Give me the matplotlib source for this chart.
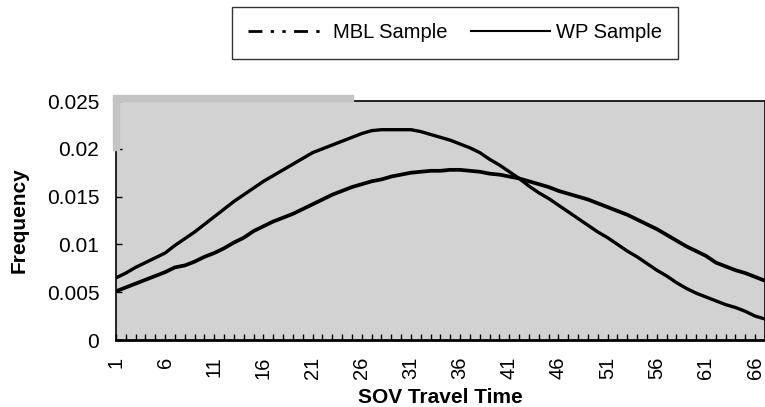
import numpy as np
import matplotlib
matplotlib.use("Agg")
import matplotlib.pyplot as plt
from matplotlib.lines import Line2D
from matplotlib.patches import Rectangle

plt.rcParams.update({
    "font.family": ["Liberation Sans", "DejaVu Sans"],
})

# SOV travel time categories 1..67
travel_time = list(range(1, 68))

mbl_sample = [
    0.0051, 0.0055, 0.0059, 0.0063, 0.0067, 0.0071, 0.0076, 0.0078, 0.0082, 0.0087,
    0.0091, 0.0096, 0.0102, 0.0107, 0.0114, 0.0119, 0.0124, 0.0128, 0.0132, 0.0137,
    0.0142, 0.0147, 0.0152, 0.0156, 0.0160, 0.0163, 0.0166, 0.0168, 0.0171, 0.0173,
    0.0175, 0.0176, 0.0177, 0.0177, 0.0178, 0.0178, 0.0177, 0.0176, 0.0174, 0.0173,
    0.0171, 0.0169, 0.0166, 0.0163, 0.0160, 0.0156, 0.0153, 0.0150, 0.0147, 0.0143,
    0.0139, 0.0135, 0.0131, 0.0126, 0.0121, 0.0116, 0.0110, 0.0104, 0.0098, 0.0093,
    0.0088, 0.0081, 0.0077, 0.0073, 0.0070, 0.0066, 0.0062,
]

wp_sample = [
    0.0065, 0.0070, 0.0076, 0.0081, 0.0086, 0.0091, 0.0099, 0.0106, 0.0113, 0.0121,
    0.0129, 0.0137, 0.0145, 0.0152, 0.0159, 0.0166, 0.0172, 0.0178, 0.0184, 0.0190,
    0.0196, 0.0200, 0.0204, 0.0208, 0.0212, 0.0216, 0.0219, 0.0220, 0.0220, 0.0220,
    0.0220, 0.0218, 0.0215, 0.0212, 0.0209, 0.0205, 0.0201, 0.0196, 0.0189, 0.0183,
    0.0176, 0.0169, 0.0161, 0.0154, 0.0148, 0.0141, 0.0134, 0.0127, 0.0120, 0.0113,
    0.0107, 0.0100, 0.0093, 0.0087, 0.0080, 0.0073, 0.0067, 0.0060, 0.0054, 0.0049,
    0.0045, 0.0041, 0.0037, 0.0034, 0.0030, 0.0025, 0.0022,
]

y_ticks = [0, 0.005, 0.01, 0.015, 0.02, 0.025]
y_labels = ["0", "0.005", "0.01", "0.015", "0.02", "0.025"]
x_labels = list(range(1, 67, 5))

fig = plt.figure(figsize=(7.65, 4.07), dpi=100)
ax = fig.add_axes([0.1516, 0.1646, 0.8484, 0.5872])
ax.set_facecolor("#d2d2d2")

ax.plot(travel_time, wp_sample, color="black", lw=2.4, solid_capstyle="round")
ax.plot(travel_time, mbl_sample, color="black", lw=2.7, solid_capstyle="round")

ax.set_xlim(1, 67)
ax.set_ylim(0, 0.025)
ax.set_yticks(y_ticks, y_labels, fontsize=15)
ax.set_xticks(travel_time, minor=True)
ax.set_xticks(x_labels, [str(v) for v in x_labels], rotation=90, fontsize=14.5)
ax.tick_params(axis="both", which="both", direction="in", length=4, width=1)
ax.tick_params(axis="x", which="major", pad=12)
ax.tick_params(axis="y", which="major", pad=12)

for s in ["top", "left", "right"]:
    ax.spines[s].set_linewidth(1.2)
ax.spines["bottom"].set_linewidth(2)

ax.set_ylabel("Frequency", fontsize=15, fontweight="bold", labelpad=13)
ax.set_xlabel("SOV Travel Time", fontsize=15, fontweight="bold", labelpad=6)

# scan artefact: light gray band at top-left of the frame
fig.patches.append(Rectangle((113 / 765, 1 - 101 / 407), 240 / 765, 6 / 407,
                             transform=fig.transFigure, color="#c4c4c4", zorder=0))
fig.patches.append(Rectangle((113 / 765, 1 - 150 / 407), 6 / 765, 53 / 407,
                             transform=fig.transFigure, color="#c4c4c4", zorder=3))

handles = [
    Line2D([], [], color="black", lw=2, dashes=(5, 3, 1.2, 3, 1.2, 3)),
    Line2D([], [], color="black", lw=1.5),
]
leg = fig.legend(handles, ["MBL Sample", "WP Sample"], loc="center",
                 bbox_to_anchor=(455 / 765, 1 - 33 / 407), ncol=2, fontsize=14.5,
                 handlelength=3.9, handletextpad=0.3, columnspacing=1.2,
                 frameon=True, fancybox=False, borderpad=0.8)
leg.get_frame().set_edgecolor("black")
leg.get_frame().set_linewidth(1)

fig.savefig("out.png", dpi=100)
